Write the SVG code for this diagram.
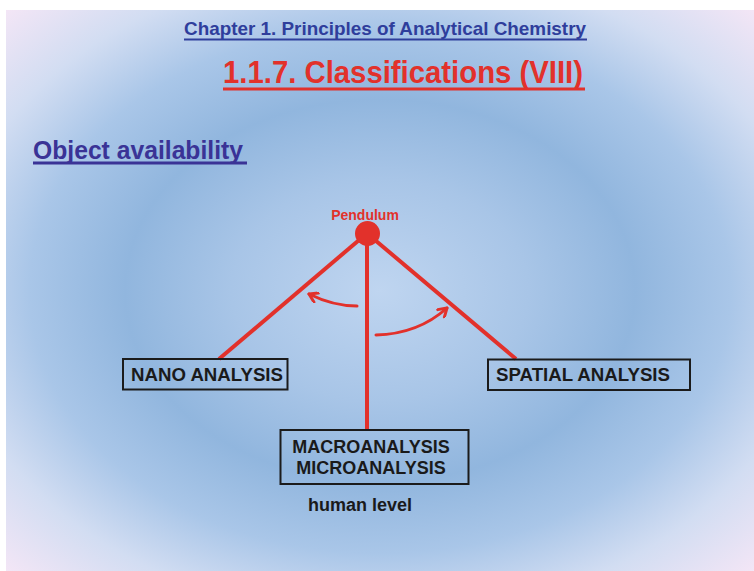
<svg xmlns="http://www.w3.org/2000/svg" width="754" height="571" viewBox="0 0 754 571">
  <defs>
    <radialGradient id="bg" cx="50%" cy="50%" r="71%" fx="50%" fy="50%">
      <stop offset="0" stop-color="#bfd5f0"/>
      <stop offset="0.28" stop-color="#a8c5e7"/>
      <stop offset="0.48" stop-color="#91b6de"/>
      <stop offset="0.66" stop-color="#a9c6e8"/>
      <stop offset="0.82" stop-color="#d2ddf2"/>
      <stop offset="1" stop-color="#f4e6f6"/>
    </radialGradient>
    <marker id="ah" viewBox="0 0 12 12" refX="10" refY="6" markerWidth="12" markerHeight="12" markerUnits="userSpaceOnUse" orient="auto">
      <path d="M2,1 L10,6 L2,11" fill="none" stroke="#e2312b" stroke-width="3" stroke-linecap="round" stroke-linejoin="round"/>
    </marker>
    <style>
      .t { font-family: "Liberation Sans", Arial, sans-serif; font-weight: bold; }
      .box { fill: none; stroke: #1b1b1b; stroke-width: 2; }
      .lbl { font-size: 18px; fill: #1a1a1a; }
      .red { stroke: #e2312b; stroke-width: 4; fill: none; }
      .arc { stroke: #e2312b; stroke-width: 3; fill: none; stroke-linecap: round; }
    </style>
  </defs>

  <rect x="0" y="0" width="754" height="571" fill="#ffffff"/>
  <rect x="6" y="10" width="748" height="561" fill="url(#bg)"/>

  <g id="headings">
    <text class="t" x="184" y="35" font-size="18.5" fill="#2f3e9c" textLength="402" lengthAdjust="spacingAndGlyphs">Chapter 1. Principles of Analytical Chemistry</text>
    <rect x="184" y="38.5" width="403" height="2" fill="#2f3e9c"/>
    <text class="t" x="223" y="83" font-size="30.5" fill="#e2312b" textLength="360" lengthAdjust="spacingAndGlyphs">1.1.7. Classifications (VIII)</text>
    <rect x="223" y="87.5" width="362" height="3" fill="#e2312b"/>
    <text class="t" x="33" y="159" font-size="26" fill="#3a3396" textLength="210" lengthAdjust="spacingAndGlyphs">Object availability</text>
    <rect x="33" y="161.5" width="214" height="3" fill="#3a3396"/>
  </g>

  <g id="connectors">
    <line class="red" x1="365" y1="235" x2="219" y2="359"/>
    <line class="red" x1="369" y1="235" x2="516" y2="359"/>
    <line class="red" x1="367" y1="240" x2="367" y2="430"/>
    <path class="arc" d="M357,306 Q333,306 309,294" marker-end="url(#ah)"/>
    <path class="arc" d="M376,335 Q418,334 447,308" marker-end="url(#ah)"/>
  </g>

  <g id="pendulum">
    <circle cx="367.5" cy="233.5" r="12.5" fill="#e2312b"/>
    <text class="t" x="365" y="220" font-size="14" fill="#e2312b" text-anchor="middle">Pendulum</text>
  </g>

  <g id="nano">
    <rect class="box" x="123" y="359" width="164.5" height="30.5"/>
    <text class="t lbl" x="131" y="381" textLength="152" lengthAdjust="spacingAndGlyphs">NANO ANALYSIS</text>
  </g>

  <g id="spatial">
    <rect class="box" x="488" y="359.5" width="202" height="30.5"/>
    <text class="t lbl" x="496" y="381" textLength="174" lengthAdjust="spacingAndGlyphs">SPATIAL ANALYSIS</text>
  </g>

  <g id="macro">
    <rect class="box" x="280.5" y="430" width="188" height="54"/>
    <text class="t lbl" x="371" y="453" text-anchor="middle">MACROANALYSIS</text>
    <text class="t lbl" x="371" y="474" text-anchor="middle">MICROANALYSIS</text>
  </g>

  <g id="human-level">
    <text class="t lbl" x="360" y="511" text-anchor="middle">human level</text>
  </g>
</svg>
